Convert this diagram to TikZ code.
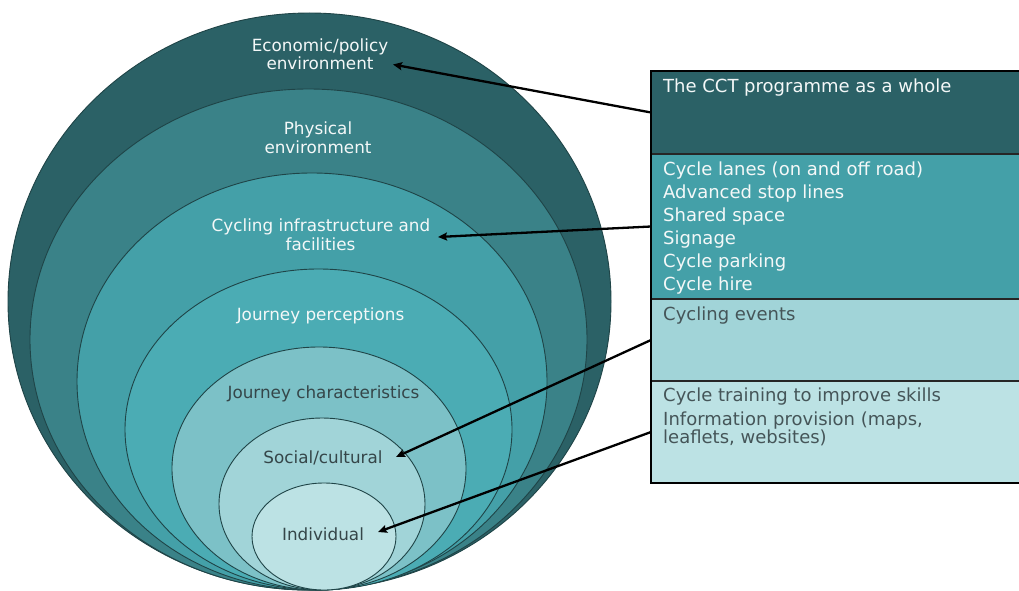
\documentclass[tikz,border=0pt]{standalone}
\usepackage{fontspec}
\setmainfont{DejaVu Sans}
\usetikzlibrary{arrows.meta}
\definecolor{cA}{HTML}{2B6166}
\definecolor{cB}{HTML}{3A8288}
\definecolor{cC}{HTML}{44A0A8}
\definecolor{cD}{HTML}{4BACB4}
\definecolor{cE}{HTML}{7CC1C7}
\definecolor{cF}{HTML}{A1D4D8}
\definecolor{cG}{HTML}{BCE2E4}
\definecolor{ringline}{HTML}{1F4447}
\definecolor{darktxt}{HTML}{354649}
\definecolor{boxtxt}{HTML}{455558}
\definecolor{lighttxt}{HTML}{F4F8F8}
\begin{document}
\begin{tikzpicture}[x=1pt,y=-1pt,
  ring/.style={draw=ringline,line width=0.9pt},
  lab/.style={font=\fontsize{16.8}{18}\selectfont,anchor=base,inner sep=0pt},
  lablight/.style={lab,text=lighttxt},
  labdark/.style={lab,text=darktxt},
  sect/.style={anchor=north west,minimum width=380pt,inner sep=0pt,outer sep=0pt},
  btxt/.style={font=\fontsize{18}{20}\selectfont,anchor=base west,inner sep=0pt},
  btlight/.style={btxt,text=lighttxt},
  btdark/.style={btxt,text=boxtxt},
  arr/.style={line width=2.3pt,-{Stealth[length=9pt,width=8pt,inset=1.5pt]}}]
\useasboundingbox (0,0) rectangle (1019,591);
\fill[white] (0,0) rectangle (1019,591);
% nested ellipses
\draw[ring,fill=cA] (309.5,301.5) ellipse [x radius=301.5, y radius=288.5];
\draw[ring,fill=cB] (308.5,339.5) ellipse [x radius=278.5, y radius=250.5];
\draw[ring,fill=cC] (312,381.5) ellipse [x radius=235, y radius=208.5];
\draw[ring,fill=cD] (318.5,429.5) ellipse [x radius=193.5, y radius=160.5];
\draw[ring,fill=cE] (319,468.5) ellipse [x radius=147, y radius=121.5];
\draw[ring,fill=cF] (322,504) ellipse [x radius=103, y radius=86];
\draw[ring,fill=cG] (324,536.5) ellipse [x radius=72, y radius=53.5];
% ellipse labels
\node[lablight] (eco1) at (320,51.7) {Economic/policy};
\node[lablight] (eco2) at (320,69.3) {environment};
\node[lablight] (phy1) at (318,135) {Physical};
\node[lablight] (phy2) at (318,153.3) {environment};
\node[lablight] (inf1) at (321,231.7) {Cycling infrastructure and};
\node[lablight] (inf2) at (320.5,250) {facilities};
\node[lablight] (per) at (320.5,320.7) {Journey perceptions};
\node[labdark] (cha) at (323.5,398.3) {Journey characteristics};
\node[labdark] (soc) at (323,463.3) {Social/cultural};
\node[labdark] (ind) at (323,540) {Individual};
% box sections
\node[sect,fill=cA,minimum height=83pt] (s1) at (651,71) {};
\node[sect,fill=cC,minimum height=145pt] (s2) at (651,154) {};
\node[sect,fill=cF,minimum height=82pt] (s3) at (651,299) {};
\node[sect,fill=cG,minimum height=102pt] (s4) at (651,381) {};
\draw[line width=1.3pt,black!85] (s1.south west) -- (s1.south east);
\draw[line width=1.3pt,black!85] (s2.south west) -- (s2.south east);
\draw[line width=1.3pt,black!85] (s3.south west) -- (s3.south east);
\draw[line width=2.6pt,black] (s1.north east) -- (s1.north west) -- (s4.south west) -- (s4.south east);
% box texts
\node[btlight] (b1) at (663,93) {The CCT programme as a whole};
\node[btlight] (b2) at (663,175.7) {Cycle lanes (on and off road)};
\node[btlight] (b3) at (663,198.5) {Advanced stop lines};
\node[btlight] (b4) at (663,221.3) {Shared space};
\node[btlight] (b5) at (663,244.2) {Signage};
\node[btlight] (b6) at (663,267.3) {Cycle parking};
\node[btlight] (b7) at (663,290.5) {Cycle hire};
\node[btdark] (b8) at (663,320) {Cycling events};
\node[btdark] (b9) at (663,401.7) {Cycle training to improve skills};
\node[btdark] (b10) at (663,425.7) {Information provision (maps,};
\node[btdark] (b11) at (663,443.5) {leaflets, websites)};
% arrow tips
\coordinate (t1) at (393,64.5);
\coordinate (t2) at (438,237);
\coordinate (t3) at (396,457);
\coordinate (t4) at (378,532);
\draw[arr] (s1.west) -- (t1);
\draw[arr] (s2.west) -- (t2);
\draw[arr] (s3.west) -- (t3);
\draw[arr] (s4.west) -- (t4);
\end{tikzpicture}
\end{document}
